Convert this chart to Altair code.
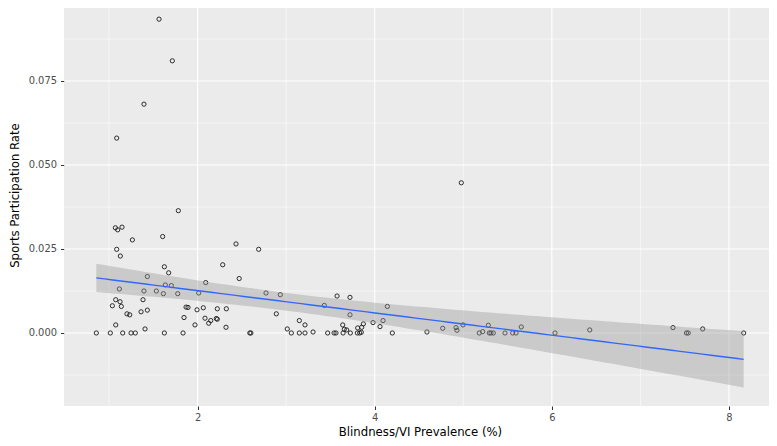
import numpy as np
import pandas as pd
import altair as alt

FONT = "Liberation Sans Narrow, DejaVu Sans Condensed, Roboto, sans-serif"

# Blindness/VI prevalence (%) per country
prevalence = [
    1.565, 1.715, 1.395, 1.087, 4.978, 1.783, 1.072, 1.098, 1.147, 1.264,
    1.606, 1.087, 1.128, 1.625, 1.674, 1.433, 2.284, 2.434, 2.690, 2.470,
    2.092, 1.117, 1.636, 1.704, 1.395, 1.535, 1.614, 1.776, 2.013, 1.076,
    1.125, 1.038, 1.139, 1.384, 1.362, 1.433, 1.203, 1.234, 1.870, 1.892,
    2.065, 1.994, 2.223, 2.325, 1.847, 2.084, 2.212, 2.223, 2.149, 2.126,
    1.971, 1.076, 1.407, 2.321,
    0.857, 1.015, 1.155, 1.249, 1.297, 1.625, 1.836, 2.590, 2.602,
    2.773, 2.934, 2.889, 3.013, 3.059, 3.149, 3.213, 3.149, 3.213, 3.304,
    3.469, 3.541, 3.563, 3.643, 3.725, 3.804, 3.831, 3.849, 3.575, 3.721,
    3.431, 3.721, 3.639, 3.657, 3.684, 3.808, 3.853, 3.872, 3.981, 4.060,
    4.094, 4.143, 4.199, 4.590, 4.768,
    4.918, 4.929, 4.997, 5.283, 5.181, 5.219, 5.294, 5.313, 5.339, 5.471,
    5.558, 5.596, 5.655, 6.036, 6.428, 7.368, 7.520, 7.540, 7.703, 8.166,
]

# Sports participation rate per country
participation = [
    0.0934, 0.0810, 0.0681, 0.0580, 0.0447, 0.0364, 0.0313, 0.0307, 0.0315, 0.0277,
    0.0287, 0.0249, 0.0229, 0.0197, 0.0179, 0.0168, 0.0203, 0.0265, 0.0249, 0.0162,
    0.0150, 0.0131, 0.0143, 0.0141, 0.0125, 0.0125, 0.0117, 0.0117, 0.0119, 0.0099,
    0.0093, 0.0081, 0.0079, 0.0099, 0.0063, 0.0068, 0.0057, 0.0054, 0.0077, 0.0076,
    0.0075, 0.0069, 0.0072, 0.0072, 0.0046, 0.0044, 0.0043, 0.0041, 0.0037, 0.0029,
    0.0024, 0.0024, 0.0012, 0.0017,
    0.0, 0.0, 0.0, 0.0, 0.0, 0.0, 0.0, 0.0, 0.0,
    0.0119, 0.0114, 0.0057, 0.0012, 0.0, 0.0037, 0.0024, 0.0, 0.0, 0.0003,
    0.0, 0.0, 0.0, 0.0, 0.0, 0.0, 0.0, 0.0002, 0.0110, 0.0106,
    0.0082, 0.0054, 0.0024, 0.0011, 0.0009, 0.0015, 0.0017, 0.0027, 0.0031, 0.0019,
    0.0037, 0.0079, 0.0, 0.0003, 0.0014,
    0.0016, 0.0008, 0.0024, 0.0023, 0.0, 0.0004, 0.0, 0.0, 0.0, 0.0,
    0.0, 0.0, 0.0018, 0.0, 0.0009, 0.0016, 0.0, 0.0, 0.0012, 0.0,
]

x_major = [2, 4, 6, 8]
x_minor = [1, 3, 5, 7]
y_major = [0.0, 0.025, 0.05, 0.075]
y_minor = [-0.0125, 0.0125, 0.0375, 0.0625, 0.0875]

x_domain = [0.492, 8.531]
y_domain = [-0.02173, 0.0988]

# Linear fit with 95% confidence band (as geom_smooth(method = "lm"))
x = np.array(prevalence)
y = np.array(participation)
n = len(x)
slope, intercept = np.polyfit(x, y, 1)
resid = y - (intercept + slope * x)
s = np.sqrt((resid ** 2).sum() / (n - 2))
xg = np.linspace(x.min(), x.max(), 80)
se = s * np.sqrt(1 / n + (xg - x.mean()) ** 2 / ((x - x.mean()) ** 2).sum())
tq = 1.979
fit = intercept + slope * xg
fit_df = pd.DataFrame({"x": xg, "fit": fit, "lo": fit - tq * se, "hi": fit + tq * se})

pts = pd.DataFrame({"x": prevalence, "y": participation})

xs = alt.Scale(domain=x_domain, nice=False, zero=False)
ys = alt.Scale(domain=y_domain, nice=False, zero=False)

x_axis = alt.Axis(
    values=x_major, grid=False, domain=False, format="d",
    tickColor="#333333", tickSize=3.5, tickWidth=1,
    labelColor="#4D4D4D", labelFontSize=11, labelPadding=2, labelFont=FONT,
    title="Blindness/VI Prevalence (%)", titleFont=FONT, titleFontSize=13,
    titleFontWeight="normal", titleColor="black", titleY=25, titleBaseline="middle",
)
y_axis = alt.Axis(
    values=y_major, grid=False, domain=False, format=".3f",
    tickColor="#333333", tickSize=3.5, tickWidth=1,
    labelColor="#4D4D4D", labelFontSize=11, labelPadding=4, labelFont=FONT,
    title="Sports Participation Rate", titleFont=FONT, titleFontSize=13,
    titleFontWeight="normal", titleColor="black", titleX=-50, titleY=194,
    titleBaseline="middle", titleAlign="center",
)

grid_major_x = alt.Chart(pd.DataFrame({"v": x_major})).mark_rule(
    color="white", strokeWidth=1.1
).encode(x=alt.X("v:Q", scale=xs, axis=x_axis))
grid_minor_x = alt.Chart(pd.DataFrame({"v": x_minor})).mark_rule(
    color="white", strokeWidth=0.55
).encode(x=alt.X("v:Q", scale=xs, axis=x_axis))
grid_major_y = alt.Chart(pd.DataFrame({"v": y_major})).mark_rule(
    color="white", strokeWidth=1.1
).encode(y=alt.Y("v:Q", scale=ys, axis=y_axis))
grid_minor_y = alt.Chart(pd.DataFrame({"v": y_minor})).mark_rule(
    color="white", strokeWidth=0.55
).encode(y=alt.Y("v:Q", scale=ys, axis=y_axis))

points = alt.Chart(pts).mark_point(
    shape="circle", filled=False, size=18, strokeWidth=0.9, color="#1a1a1a", opacity=1
).encode(
    x=alt.X("x:Q", scale=xs, axis=x_axis),
    y=alt.Y("y:Q", scale=ys, axis=y_axis),
)

band = alt.Chart(fit_df).mark_area(color="#999999", opacity=0.4).encode(
    x=alt.X("x:Q", scale=xs, axis=x_axis),
    y=alt.Y("lo:Q", scale=ys, axis=y_axis),
    y2="hi:Q",
)

line = alt.Chart(fit_df).mark_line(color="#3366FF", strokeWidth=1.4).encode(
    x=alt.X("x:Q", scale=xs, axis=x_axis),
    y=alt.Y("fit:Q", scale=ys, axis=y_axis),
)

chart = alt.layer(
    grid_minor_x, grid_minor_y, grid_major_x, grid_major_y, points, band, line
).properties(
    width=712, height=405,
    autosize=alt.AutoSizeParams(type="none"),
    padding={"left": 56, "top": -7, "right": -7, "bottom": 32},
    background="white",
).configure_view(fill="#EBEBEB", strokeWidth=0)

chart.save("out.html", embed_options={"renderer": "svg", "actions": False})
